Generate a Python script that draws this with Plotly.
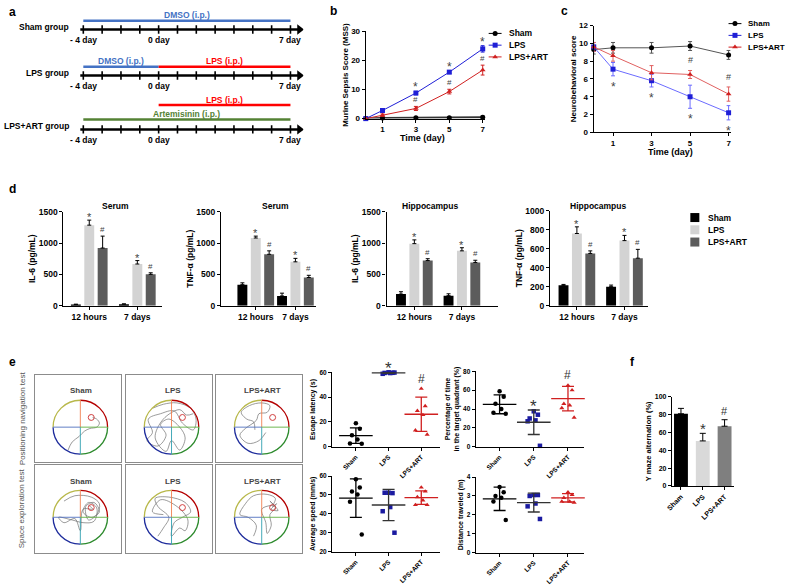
import plotly.graph_objects as go

W, H = 790, 585
FONT = "Liberation Sans, Arial, sans-serif"

# ---------------- data ----------------
# a: treatment schedule
SCHEDULE_DAYS = list(range(-4, 8))
DAY_LABEL_DAYS = [-4, 0, 7]
DAY_LABELS = ["- 4 day", "0 day", "7 day"]
SCHEDULE_GROUPS = ["Sham group", "LPS group", "LPS+ART group"]
TREAT_GROUP = [0, 1, 1, 2, 2]
TREAT_NAME = ["DMSO (i.p.)", "DMSO (i.p.)", "LPS (i.p.)", "LPS (i.p.)", "Artemisinin (i.p.)"]
TREAT_START = [-4, -4, 0, 0, -4]
TREAT_END = [7, 0, 7, 7, 7]

# b: murine sepsis score
TIME_DAYS = [0, 1, 3, 5, 7]
MSS_SHAM = [0, 0.2, 0.3, 0.3, 0.5]
MSS_SHAM_ERR = [0, 0.2, 0.2, 0.2, 0.4]
MSS_LPS = [0, 2.8, 8.8, 16.0, 24.0]
MSS_LPS_ERR = [0, 0.4, 0.6, 0.5, 1.1]
MSS_ART = [0, 1.2, 3.5, 9.3, 16.7]
MSS_ART_ERR = [0, 0.4, 0.7, 0.8, 1.7]

# c: neurobehavioral score
NEURO_SHAM = [9.3, 9.5, 9.5, 9.7, 8.7]
NEURO_SHAM_ERR = [0.5, 0.6, 0.6, 0.5, 0.5]
NEURO_LPS = [9.6, 7.1, 5.8, 4.0, 2.2]
NEURO_LPS_ERR = [0.5, 0.75, 0.7, 1.3, 0.8]
NEURO_ART = [9.6, 8.6, 6.7, 6.5, 4.3]
NEURO_ART_ERR = [0.5, 0.6, 0.8, 0.45, 0.8]

# d: cytokines
CYTO_TIMES = ["12 hours", "7 days"]
SERUM_IL6_SHAM, SERUM_IL6_SHAM_ERR = [20, 25], [4, 4]
SERUM_IL6_LPS, SERUM_IL6_LPS_ERR = [1285, 665], [80, 55]
SERUM_IL6_ART, SERUM_IL6_ART_ERR = [920, 500], [190, 25]
SERUM_TNF_SHAM, SERUM_TNF_SHAM_ERR = [335, 155], [30, 45]
SERUM_TNF_LPS, SERUM_TNF_LPS_ERR = [1080, 700], [30, 55]
SERUM_TNF_ART, SERUM_TNF_ART_ERR = [820, 450], [55, 35]
HIPPO_IL6_SHAM, HIPPO_IL6_SHAM_ERR = [185, 160], [38, 30]
HIPPO_IL6_LPS, HIPPO_IL6_LPS_ERR = [990, 875], [60, 50]
HIPPO_IL6_ART, HIPPO_IL6_ART_ERR = [720, 690], [30, 35]
HIPPO_TNF_SHAM, HIPPO_TNF_SHAM_ERR = [214, 200], [10, 17]
HIPPO_TNF_LPS, HIPPO_TNF_LPS_ERR = [760, 685], [70, 55]
HIPPO_TNF_ART, HIPPO_TNF_ART_ERR = [550, 500], [27, 93]

# e: Morris water maze
E_GROUPS = ["Sham", "LPS", "LPS+ART"]
ESC_SHAM = [19, 14.5, 9.3, 5.8, 2.6, 2.4]
ESC_LPS = [60, 59.6, 59.5, 59.4, 58.8, 59.8]
ESC_ART = [46.8, 32.8, 29, 25.6, 13.2, 9.8]
ESC_MEAN, ESC_SD = [9.0, 59.5, 26.2], [6.2, 0.4, 13.8]
PCT_SHAM = [59, 53, 45.6, 40, 36, 35]
PCT_LPS = [37.6, 34, 30, 28, 27, 1]
PCT_ART = [65, 60, 45.6, 44, 41, 31]
PCT_MEAN, PCT_SD = [45, 26, 51], [10, 13, 13]
SPEED_SHAM = [58.3, 54, 51.9, 50.2, 46.4, 29.1]
SPEED_LPS = [51.2, 51.0, 51.2, 43.6, 41.4, 30]
SPEED_ART = [54, 51.9, 48.9, 47.2, 44.7, 44.7]
SPEED_MEAN, SPEED_SD = [48.3, 44.7, 48.6], [10.2, 8.3, 3.6]
DIST_SHAM = [3.47, 3.2, 3.0, 2.9, 2.7, 1.72]
DIST_LPS = [3.05, 3.05, 3.0, 2.6, 2.45, 1.78]
DIST_ART = [3.2, 3.06, 2.9, 2.7, 2.7, 2.65]
DIST_MEAN, DIST_SD = [2.85, 2.65, 2.9], [0.62, 0.5, 0.22]

# e: swim paths, in units of the pool radius (traced by eye)
TARGET = (0.4, 0.36)
PATHS = [
    [(-0.45, -0.85), (-0.3, -0.55), (-0.05, -0.35), (0.15, -0.15), (0.35, -0.05),
     (0.6, 0.0), (0.7, 0.15), (0.6, 0.3), (0.45, 0.36)],
    [(-0.7, 0.7), (-0.3, 0.85), (0.2, 0.9), (0.7, 0.7), (0.9, 0.3), (0.8, -0.1),
     (0.4, 0.15), (0.1, 0.6), (-0.4, 0.5), (-0.85, 0.3), (-0.7, -0.2), (-0.9, -0.5),
     (-0.5, -0.7), (-0.2, -0.3), (-0.4, 0.1), (-0.1, 0.3), (0.3, 0.0), (0.5, -0.4),
     (0.3, -0.85), (0.0, -0.5), (-0.2, -0.9), (-0.6, -0.4), (-0.3, 0.3), (0.3, 0.65),
     (0.55, 0.45), (0.8, 0.5)],
    [(-0.25, -0.1), (-0.3, 0.2), (-0.55, 0.3), (-0.75, 0.55), (-0.45, 0.8), (0.0, 0.9),
     (0.3, 0.8), (0.2, 0.55), (-0.1, 0.5), (-0.2, 0.25), (-0.6, -0.05), (-0.8, -0.3),
     (-0.5, -0.6), (-0.1, -0.5), (0.15, -0.2)],
    [(-0.6, 0.6), (-0.2, 0.8), (0.4, 0.75), (0.7, 0.5), (0.6, 0.1), (0.3, -0.1),
     (0.2, 0.4), (0.5, 0.55), (0.7, 0.2), (0.4, 0.0), (0.1, 0.2), (0.3, 0.55),
     (0.6, 0.35), (0.5, -0.15), (0.1, -0.2), (-0.3, -0.1), (-0.8, 0.0), (-0.6, -0.2),
     (-0.2, -0.05), (0.0, -0.5), (0.1, 0.3), (0.45, 0.3), (0.3, 0.45)],
    [(-0.5, -0.7), (-0.3, -0.4), (-0.1, 0.0), (-0.5, 0.4), (-0.6, 0.7), (-0.1, 0.75),
     (0.5, 0.55), (0.7, 0.2), (0.4, 0.0), (0.1, -0.2), (0.0, -0.7), (0.3, -0.4),
     (0.5, -0.5), (0.6, -0.1), (0.2, 0.4), (-0.4, 0.65), (-0.7, 0.2), (-0.3, 0.1)],
    [(-0.3, -0.7), (-0.2, -0.3), (-0.5, 0.0), (-0.8, 0.1), (-0.6, 0.5), (-0.3, 0.8),
     (0.2, 0.85), (0.5, 0.7), (0.4, 0.4), (0.55, 0.5), (0.35, 0.3), (0.6, 0.25),
     (0.3, 0.6), (0.5, 0.35), (0.3, 0.1), (0.35, -0.3), (0.2, -0.6), (0.15, -0.2),
     (0.0, 0.3), (0.4, 0.45)],
]

# f: Y maze
Y_MAZE = [81, 50.5, 67]
Y_MAZE_ERR = [6, 8.5, 7.3]

# ---------------- styling ----------------
C_SHAM, C_LPS, C_ART = "black", "#1f1fd6", "#d02020"
BAR_COLORS = ["black", "#d3d3d3", "#5c5c5c"]
F_COLORS = ["black", "#d9d9d9", "#7f7f7f"]
TREAT_COLORS = {"DMSO (i.p.)": "#4472c4", "LPS (i.p.)": "#ff0000", "Artemisinin (i.p.)": "#548235"}
ROW_Y = [25, 72, 127]
LANE_OFFSET = [-9, -9, -9, -25, -10]
JITTER = [0.0, 0.12, -0.12, 0.05, -0.18, 0.18]


def dom_x(p0, p1):
    return [p0 / W, p1 / W]


def dom_y(top, bottom):
    return [1 - bottom / H, 1 - top / H]


def xa(n):
    return "xaxis" if n == 1 else f"xaxis{n}"


def ya(n):
    return "yaxis" if n == 1 else f"yaxis{n}"


def xr(n):
    return "x" if n == 1 else f"x{n}"


def yr(n):
    return "y" if n == 1 else f"y{n}"


def tick_font(size=8, color="black"):
    return dict(size=size, family=FONT, color=color, weight="bold")


def ytitle(s, size=8, standoff=2):
    return dict(text=f"<b>{s}</b>", font=dict(size=size, family=FONT, color="black"),
                standoff=standoff)


def std_axis(domain, rng, size=8, **kw):
    d = dict(domain=domain, range=rng, showline=True, linecolor="black", linewidth=1.3,
             ticks="outside", ticklen=3, tickwidth=1.2, tickcolor="black", showgrid=False,
             zeroline=False, tickfont=tick_font(size), fixedrange=True)
    d.update(kw)
    return d


fig = go.Figure()
axes = {}
ann = []
shapes = []


def text(x, y, s, size=8, color="black", bold=True, angle=0, xanchor="center",
         yanchor="middle", xref="paper", yref="paper"):
    if xref == "paper":
        x = x / W
    if yref == "paper":
        y = 1 - y / H
    ann.append(dict(x=x, y=y, xref=xref, yref=yref, text=f"<b>{s}</b>" if bold else s,
                    showarrow=False, textangle=angle, xanchor=xanchor, yanchor=yanchor,
                    font=dict(size=size, family=FONT, color=color)))


def mark(s, n, x, y, size=10, color="#444", below=False, yshift=0):
    ann.append(dict(x=x, y=y, xref=xr(n), yref=yr(n), text=s, showarrow=False,
                    yanchor="top" if below else "bottom", yshift=yshift,
                    font=dict(size=size, family=FONT, color=color)))


# panel letters
for letter, px, py in [("a", 7, 7), ("b", 330, 6), ("c", 563, 6), ("d", 7, 188),
                       ("e", 7, 364), ("f", 632, 364)]:
    text(px, py, letter, size=12)

# ---------------- a ----------------
axes[xa(1)] = dict(domain=dom_x(70, 300), range=[-4 - 8 / 19, 7 + 13 / 19], visible=False,
                   fixedrange=True)
axes[ya(1)] = dict(domain=dom_y(0, 145), range=[145, 0], visible=False, fixedrange=True)
for g, name in enumerate(SCHEDULE_GROUPS):
    ry = ROW_Y[g]
    fig.add_trace(go.Scatter(x=[SCHEDULE_DAYS[0] - 0.16, SCHEDULE_DAYS[-1] + 0.4], y=[ry, ry],
                             mode="lines", line=dict(color="black", width=2.5),
                             xaxis="x", yaxis="y"))
    fig.add_trace(go.Scatter(x=SCHEDULE_DAYS, y=[ry] * len(SCHEDULE_DAYS), mode="markers",
                             marker=dict(symbol="line-ns", size=6,
                                         line=dict(width=1.6, color="black")),
                             xaxis="x", yaxis="y"))
    fig.add_trace(go.Scatter(x=[SCHEDULE_DAYS[-1] + 0.48], y=[ry], mode="markers",
                             marker=dict(symbol="triangle-right", size=9, color="black"),
                             xaxis="x", yaxis="y"))
    for d, lab in zip(DAY_LABEL_DAYS, DAY_LABELS):
        text(d, ry + 11, lab, size=8.5, xref="x", yref="y")
    text(66, ry - 3, name, size=8.5, xanchor="right")
for i, name in enumerate(TREAT_NAME):
    ly = ROW_Y[TREAT_GROUP[i]] + LANE_OFFSET[i]
    col = TREAT_COLORS[name]
    fig.add_trace(go.Scatter(x=[TREAT_START[i], TREAT_END[i]], y=[ly, ly], mode="lines",
                             line=dict(color=col, width=2.5), xaxis="x", yaxis="y"))
    text((TREAT_START[i] + TREAT_END[i]) / 2, ly - 5.5, name, size=8.5, color=col,
         xref="x", yref="y")

# ---------------- b ----------------
axes[xa(2)] = std_axis(dom_x(363, 483), [0, 7.12], anchor="y2", tickvals=[1, 3, 5, 7])
axes[ya(2)] = std_axis(dom_y(27, 116), [0, 30], anchor="x2", tickvals=[0, 10, 20, 30],
                       title=ytitle("Murine Sepsis Score (MSS)", 8, 1))
for vals, err, col, sym, lw in [(MSS_SHAM, MSS_SHAM_ERR, C_SHAM, "circle", 2),
                                (MSS_LPS, MSS_LPS_ERR, C_LPS, "square", 1),
                                (MSS_ART, MSS_ART_ERR, C_ART, "triangle-up", 1)]:
    fig.add_trace(go.Scatter(x=TIME_DAYS, y=vals, mode="lines+markers", cliponaxis=False,
                             line=dict(color=col if col != C_SHAM else "#333", width=lw),
                             marker=dict(symbol=sym, size=5, color=col),
                             error_y=dict(type="data", array=err, color=col, thickness=1, width=2),
                             xaxis="x2", yaxis="y2"))
for i in [2, 3, 4]:
    mark("*", 2, TIME_DAYS[i], MSS_LPS[i] + MSS_LPS_ERR[i], size=12, yshift=-5)
    mark("#", 2, TIME_DAYS[i], MSS_ART[i] + MSS_ART_ERR[i], size=8, yshift=0)
text(420, 136, "Time (day)", size=9)

# ---------------- c ----------------
axes[xa(3)] = std_axis(dom_x(593, 731), [0, 7.1], anchor="y3", tickvals=[1, 3, 5, 7])
axes[ya(3)] = std_axis(dom_y(21, 130), [0, 12], anchor="x3", dtick=2,
                       title=ytitle("Neurobehavioral score", 8, 1))
for vals, err, col, lcol, sym in [(NEURO_SHAM, NEURO_SHAM_ERR, C_SHAM, "#555", "circle"),
                                  (NEURO_LPS, NEURO_LPS_ERR, C_LPS, "#6b6bff", "square"),
                                  (NEURO_ART, NEURO_ART_ERR, C_ART, "#e06060", "triangle-up")]:
    fig.add_trace(go.Scatter(x=TIME_DAYS, y=vals, mode="lines+markers", cliponaxis=False,
                             line=dict(color=lcol, width=1),
                             marker=dict(symbol=sym, size=5, color=col),
                             error_y=dict(type="data", array=err, color=lcol, thickness=1, width=2),
                             xaxis="x3", yaxis="y3"))
for i in [1, 2, 3, 4]:
    mark("*", 3, TIME_DAYS[i], NEURO_LPS[i] - NEURO_LPS_ERR[i], size=12, below=True, yshift=-2)
for i in [3, 4]:
    mark("#", 3, TIME_DAYS[i], NEURO_ART[i] + NEURO_ART_ERR[i], size=9, yshift=3)
text(670, 150, "Time (day)", size=9)

# legends for b and c
axes[xa(19)] = dict(domain=[0, 1], range=[0, W], visible=False, fixedrange=True)
axes[ya(19)] = dict(domain=[0, 1], range=[H, 0], visible=False, fixedrange=True)
for x0, y0, fs in [(487, 29, 8.5), (729, 19, 8)]:
    for k, (name, col, sym) in enumerate([("Sham", C_SHAM, "circle"), ("LPS", C_LPS, "square"),
                                          ("LPS+ART", C_ART, "triangle-up")]):
        yy = y0 + 12 * k
        fig.add_trace(go.Scatter(x=[x0, x0 + 13], y=[yy, yy], mode="lines",
                                 line=dict(color=col, width=1), xaxis="x19", yaxis="y19"))
        fig.add_trace(go.Scatter(x=[x0 + 6.5], y=[yy], mode="markers",
                                 marker=dict(symbol=sym, size=5, color=col),
                                 xaxis="x19", yaxis="y19"))
        text(x0 + 18, yy, name, size=fs, xanchor="left")

# ---------------- d ----------------
d_specs = [
    (4, 58, 157, 84, 48.5, 211, [0, 1500], 500, "Serum", 110, "IL-6 (pg/mL)",
     [(SERUM_IL6_SHAM, SERUM_IL6_SHAM_ERR), (SERUM_IL6_LPS, SERUM_IL6_LPS_ERR),
      (SERUM_IL6_ART, SERUM_IL6_ART_ERR)]),
    (5, 217, 313, 252, 40, 211, [0, 1500], 500, "Serum", 272, "TNF-α (pg/mL)",
     [(SERUM_TNF_SHAM, SERUM_TNF_SHAM_ERR), (SERUM_TNF_LPS, SERUM_TNF_LPS_ERR),
      (SERUM_TNF_ART, SERUM_TNF_ART_ERR)]),
    (6, 384, 496, 412, 48, 211, [0, 1500], 500, "Hippocampus", 428, "IL-6 (pg/mL)",
     [(HIPPO_IL6_SHAM, HIPPO_IL6_SHAM_ERR), (HIPPO_IL6_LPS, HIPPO_IL6_LPS_ERR),
      (HIPPO_IL6_ART, HIPPO_IL6_ART_ERR)]),
    (7, 549, 648, 576, 48, 210, [0, 1000], 200, "Hippocampus", 597, "TNF-α (pg/mL)",
     [(HIPPO_TNF_SHAM, HIPPO_TNF_SHAM_ERR), (HIPPO_TNF_LPS, HIPPO_TNF_LPS_ERR),
      (HIPPO_TNF_ART, HIPPO_TNF_ART_ERR)]),
]
for n, left, right, c0, unit, top, yrng, dt, title, tx, yt, series in d_specs:
    axes[xa(n)] = std_axis(dom_x(left, right), [(left - c0) / unit, (right - c0) / unit],
                           size=8.5, anchor=yr(n), tickvals=[0, 1], ticktext=CYTO_TIMES)
    axes[ya(n)] = std_axis(dom_y(top, 307), yrng, size=8.5, anchor=xr(n), dtick=dt,
                           title=ytitle(yt, 8.5, 1))
    for k, (vals, err) in enumerate(series):
        fig.add_trace(go.Bar(x=[0, 1], y=vals, width=10 / unit, offset=((k - 1) * 13.5 - 5) / unit,
                             marker=dict(color=BAR_COLORS[k], line=dict(width=0)),
                             error_y=dict(type="data", symmetric=False, array=err,
                                          arrayminus=[0, 0], color="black", thickness=1, width=2),
                             xaxis=xr(n), yaxis=yr(n)))
    lps, lps_e = series[1]
    art, art_e = series[2]
    for i in [0, 1]:
        mark("*", n, i, lps[i] + lps_e[i], size=11, yshift=-5)
        mark("#", n, i + 13.5 / unit, art[i] + art_e[i], size=8, yshift=0)
    text(tx, 205, title, size=8.5)
for k, name in enumerate(["Sham", "LPS", "LPS+ART"]):
    yy = 217 + 12.5 * k
    fig.add_trace(go.Scatter(x=[695], y=[yy], mode="markers",
                             marker=dict(symbol="square", size=9, color=BAR_COLORS[k]),
                             xaxis="x19", yaxis="y19"))
    text(706, yy, name, size=8.5, xanchor="left")

# ---------------- e: maze tracks ----------------
box_left = [29, 121, 212]
box_top = [378, 470]
R = 27.5
kb = 0.5523
arcs = [("M 0,1 C {k},1 1,{k} 1,0", "#b40000"), ("M 1,0 C 1,-{k} {k},-1 0,-1", "#2e8b2e"),
        ("M 0,-1 C -{k},-1 -1,-{k} -1,0", "#1f2d9c"), ("M -1,0 C -1,{k} -{k},1 0,1", "#b8b84a")]
cross = [((0, 0), (0, 1), "#f08050"), ((0, 0), (0, -1), "#30a0b0"),
         ((-1, 0), (0, 0), "#5070c0"), ((0, 0), (1, 0), "#60b040")]
for r in range(2):
    for c in range(3):
        n = 8 + r * 3 + c
        bl, bt = box_left[c], box_top[r]
        axes[xa(n)] = dict(domain=dom_x(bl, bl + 87), range=[-46 / R, 41 / R], showline=True,
                           mirror=True, linecolor="#8c8c8c", linewidth=1.3, showticklabels=False,
                           ticks="", showgrid=False, zeroline=False, anchor=yr(n), fixedrange=True)
        axes[ya(n)] = dict(domain=dom_y(bt, bt + 89), range=[-36 / R, 53 / R], showline=True,
                           mirror=True, linecolor="#8c8c8c", linewidth=1.3, showticklabels=False,
                           ticks="", showgrid=False, zeroline=False, anchor=xr(n), fixedrange=True)
        path = PATHS[r * 3 + c]
        fig.add_trace(go.Scatter(x=[p[0] for p in path], y=[p[1] for p in path], mode="lines",
                                 line=dict(color="#707070", width=0.7, shape="spline"),
                                 xaxis=xr(n), yaxis=yr(n)))
        for p, col in arcs:
            shapes.append(dict(type="path", path=p.format(k=kb), xref=xr(n), yref=yr(n),
                               line=dict(color=col, width=1.3)))
        for (x0, y0), (x1, y1), col in cross:
            shapes.append(dict(type="line", x0=x0, y0=y0, x1=x1, y1=y1, xref=xr(n), yref=yr(n),
                               line=dict(color=col, width=0.9)))
        shapes.append(dict(type="circle", x0=TARGET[0] - 0.11, x1=TARGET[0] + 0.11,
                           y0=TARGET[1] - 0.11, y1=TARGET[1] + 0.11, xref=xr(n), yref=yr(n),
                           line=dict(color="#d04040", width=1)))
        text(bl + 47, bt + 16, E_GROUPS[c], size=8, color="#444")
text(16, 422, "Positioning navigation test", size=8, color="#555", bold=False, angle=-90)
text(16, 514, "Space exploration test", size=8, color="#555", bold=False, angle=-90)

# ---------------- e: scatter plots ----------------
e_specs = [
    (14, 329, 438, 353, 33, 375, 451, [0, 60], 20, "Escape latency (s)",
     [ESC_SHAM, ESC_LPS, ESC_ART], ESC_MEAN, ESC_SD),
    (15, 474, 583, 498, 34.5, 374, 451, [0, 80], 20,
     "Percentage of time<br>in the target quadrant (%)",
     [PCT_SHAM, PCT_LPS, PCT_ART], PCT_MEAN, PCT_SD),
    (16, 329, 438, 353, 33, 481, 558, [20, 60], 10, "Average speed (mm/s)",
     [SPEED_SHAM, SPEED_LPS, SPEED_ART], SPEED_MEAN, SPEED_SD),
    (17, 474, 583, 498, 34.5, 482, 559, [0, 4], 1, "Distance traveled (m)",
     [DIST_SHAM, DIST_LPS, DIST_ART], DIST_MEAN, DIST_SD),
]
pt_style = [(C_SHAM, "circle", "black"), ("#1a1aa0", "square", "#333"),
            (C_ART, "triangle-up", C_ART)]
for n, left, right, c0, unit, top, bottom, yrng, dt, yt, groups, means, sds in e_specs:
    axes[xa(n)] = std_axis(dom_x(left, right), [(left - c0) / unit, (right - c0) / unit],
                           size=6.5, anchor=yr(n), tickvals=[0, 1, 2], ticktext=E_GROUPS,
                           tickangle=-45)
    axes[ya(n)] = std_axis(dom_y(top, bottom), yrng, size=6.5, anchor=xr(n), dtick=dt,
                           title=ytitle(yt, 7, 2))
    for g, vals in enumerate(groups):
        pcol, sym, lcol = pt_style[g]
        fig.add_trace(go.Scatter(x=[g + j for j in JITTER[:len(vals)]], y=vals, mode="markers",
                                 cliponaxis=False, marker=dict(symbol=sym, size=4.5, color=pcol),
                                 xaxis=xr(n), yaxis=yr(n)))
        fig.add_trace(go.Scatter(x=[g], y=[means[g]], mode="markers", cliponaxis=False,
                                 marker=dict(symbol="line-ew", size=24,
                                             line=dict(width=1.3, color=lcol)),
                                 error_y=dict(type="data", array=[sds[g]], color=lcol,
                                              thickness=1.3, width=6),
                                 xaxis=xr(n), yaxis=yr(n)))

for n, groups, means, sds in [(14, [ESC_SHAM, ESC_LPS, ESC_ART], ESC_MEAN, ESC_SD),
                              (15, [PCT_SHAM, PCT_LPS, PCT_ART], PCT_MEAN, PCT_SD)]:
    mark("*", n, 1, max(max(groups[1]), means[1] + sds[1]), size=17, color="#333", yshift=-8)
    mark("#", n, 2, max(max(groups[2]), means[2] + sds[2]), size=12, color="#333", yshift=1)

# ---------------- f ----------------
axes[xa(18)] = std_axis(dom_x(672, 735), [(672 - 681) / 22, (735 - 681) / 22], size=7,
                        anchor="y18", tickvals=[0, 1, 2], ticktext=E_GROUPS, tickangle=-45)
axes[ya(18)] = std_axis(dom_y(400, 491), [0, 100], size=7, anchor="x18", dtick=20,
                        title=ytitle("Y maze alternation (%)", 7.5, 2))
fig.add_trace(go.Bar(x=[0, 1, 2], y=Y_MAZE, width=14 / 22,
                     marker=dict(color=F_COLORS, line=dict(width=0)),
                     error_y=dict(type="data", symmetric=False, array=Y_MAZE_ERR,
                                  arrayminus=[0, 0, 0], color="black", thickness=1, width=3),
                     xaxis="x18", yaxis="y18"))
mark("*", 18, 1, Y_MAZE[1] + Y_MAZE_ERR[1], size=15, color="#333", yshift=-6)
mark("#", 18, 2, Y_MAZE[2] + Y_MAZE_ERR[2], size=11, color="#333", yshift=1)

fig.update_layout(
    width=W, height=H, margin=dict(l=0, r=0, t=0, b=0),
    paper_bgcolor="white", plot_bgcolor="rgba(0,0,0,0)",
    showlegend=False, barmode="overlay", hovermode=False,
    font=dict(family=FONT),
    annotations=ann, shapes=shapes, **axes,
)

# drop the default page margin so the figure sits at the window's top-left corner
fig.write_html("out.html", config={"displayModeBar": False},
               post_script="document.body.style.margin='0';")
